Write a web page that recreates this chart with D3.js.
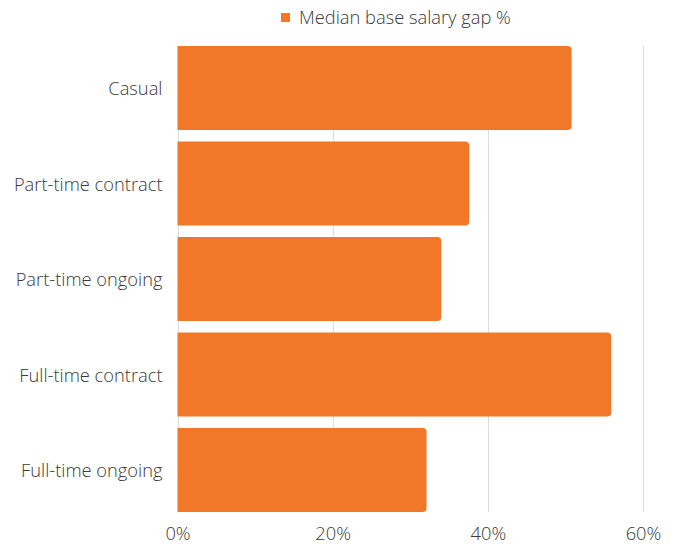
<!DOCTYPE html>
<html>
<head>
<meta charset="utf-8">
<script src="https://cdn.jsdelivr.net/npm/d3@7"></script>
<style>
  html, body { margin: 0; padding: 0; background: #fff; }
  svg { display: block; font-family: "Open Sans", sans-serif; font-weight: 300; }
</style>
</head>
<body>
<svg id="chart" width="677" height="547"></svg>
<script>
// Employment types, top to bottom
const categories = ["Casual", "Part-time contract", "Part-time ongoing", "Full-time contract", "Full-time ongoing"];
// Median base salary gap, percent
const gapValues = [50.8, 37.6, 34.0, 55.9, 32.1];
// Axis ticks
const tickValues = [0, 20, 40, 60];
const tickLabels = ["0%", "20%", "40%", "60%"];
const seriesName = "Median base salary gap %";

const width = 677, height = 547;
const margin = { top: 46, right: 34, bottom: 35, left: 177.5 };
const barColor = "#F07828";
const textColor = "#3a3a3a";
const fontSize = 18.3;

const svg = d3.select("#chart");

const x = d3.scaleLinear()
  .domain([0, 60])
  .range([margin.left, width - margin.right]);

const y = d3.scaleBand()
  .domain(categories)
  .range([margin.top, height - margin.bottom])
  .paddingInner(0.12)
  .paddingOuter(0);

// Vertical gridlines
svg.append("g")
  .selectAll("line")
  .data(tickValues)
  .join("line")
  .attr("x1", d => Math.round(x(d)) + 0.5)
  .attr("x2", d => Math.round(x(d)) + 0.5)
  .attr("y1", margin.top)
  .attr("y2", height - margin.bottom)
  .attr("stroke", "#dcdcdc")
  .attr("stroke-width", 1);

// Bars with rounded right end
const r = 4;
function barPath(d, i) {
  const x0 = x(0), x1 = x(d), y0 = y(categories[i]), h = y.bandwidth();
  const rr = Math.min(r, (x1 - x0) / 2);
  return `M${x0},${y0}H${x1 - rr}Q${x1},${y0} ${x1},${y0 + rr}` +
         `V${y0 + h - rr}Q${x1},${y0 + h} ${x1 - rr},${y0 + h}H${x0}Z`;
}
svg.append("g")
  .selectAll("path")
  .data(gapValues)
  .join("path")
  .attr("d", barPath)
  .attr("fill", barColor);

// X axis labels
const xAxis = d3.axisBottom(x)
  .tickValues(tickValues)
  .tickFormat((d, i) => tickLabels[i])
  .tickSize(0)
  .tickPadding(15);
const gx = svg.append("g")
  .attr("transform", `translate(0,${height - margin.bottom})`)
  .call(xAxis);
gx.select(".domain").remove();
gx.selectAll("text")
  .attr("font-size", fontSize)
  .attr("font-family", "'Open Sans', sans-serif")
  .attr("font-weight", 300)
  .attr("fill", textColor);

// Y axis labels
const yAxis = d3.axisLeft(y).tickSize(0).tickPadding(15);
const gy = svg.append("g")
  .attr("transform", `translate(${margin.left},1.5)`)
  .call(yAxis);
gy.select(".domain").remove();
gy.selectAll("text")
  .attr("font-size", fontSize)
  .attr("font-family", "'Open Sans', sans-serif")
  .attr("font-weight", 300)
  .attr("fill", textColor);

// Legend
const legend = svg.append("g").attr("transform", "translate(281,13)");
legend.append("rect")
  .attr("width", 9).attr("height", 9)
  .attr("fill", barColor);
legend.append("text")
  .attr("x", 18).attr("y", 4.5)
  .attr("dy", "0.35em")
  .attr("font-size", fontSize)
  .attr("font-weight", 300)
  .attr("fill", textColor)
  .text(seriesName);
</script>
</body>
</html>
